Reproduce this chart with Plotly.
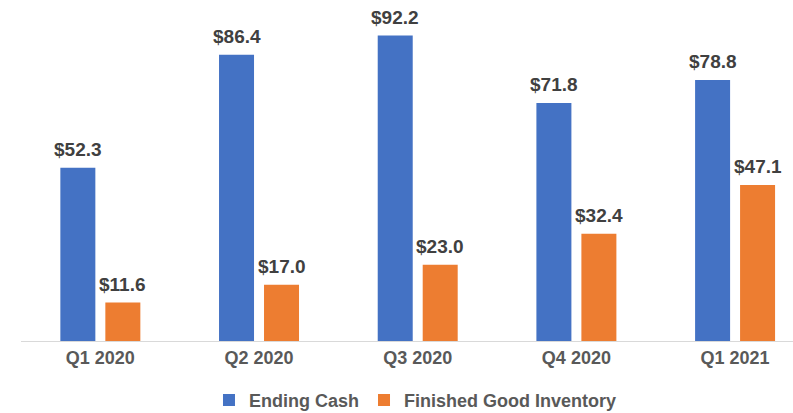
import plotly.graph_objects as go

categories = ["Q1 2020", "Q2 2020", "Q3 2020", "Q4 2020", "Q1 2021"]
ending_cash = [52.3, 86.4, 92.2, 71.8, 78.8]
inventory = [11.6, 17.0, 23.0, 32.4, 47.1]

def labels(vals):
    return ["$%.1f" % v for v in vals]

BLUE = "#4472C4"
ORANGE = "#ED7D31"

fig = go.Figure()
fig.add_trace(go.Bar(name="Ending Cash", x=categories, y=ending_cash,
                     marker_color=BLUE, marker_line_width=0, hoverinfo="x+y"))
fig.add_trace(go.Bar(name="Finished Good Inventory", x=categories, y=inventory,
                     marker_color=ORANGE, marker_line_width=0, hoverinfo="x+y"))

label_font = dict(family="Liberation Sans", size=19, color="#404040", weight="bold")
for vals, shift in ((ending_cash, -22.5), (inventory, 22.5)):
    for c, v, t in zip(categories, vals, labels(vals)):
        fig.add_annotation(x=c, y=v, xref="x", yref="y", text=t, showarrow=False,
                           xshift=shift, yshift=6, yanchor="bottom", xanchor="center",
                           font=label_font)

fig.update_layout(
    width=793, height=413,
    margin=dict(l=21, r=0, t=9, b=72),
    paper_bgcolor="white", plot_bgcolor="white",
    barmode="group", bargap=0.433, bargroupgap=0.222,
    font=dict(family="Liberation Sans", color="#595959"),
    legend=dict(orientation="h", x=0.511, xanchor="center",
                yref="container", y=0.031, yanchor="middle",
                font=dict(size=18, color="#595959", weight="bold"),
                itemwidth=30, traceorder="normal", tracegroupgap=0),
)
fig.update_xaxes(
    range=[-0.5, 4.365], showline=True, linecolor="#D9D9D9", linewidth=1,
    tickfont=dict(size=18, color="#595959", weight="bold"), ticks="",
    showgrid=False, zeroline=False, automargin=False,
)
fig.update_yaxes(range=[0, 100.2], visible=False, showgrid=False, zeroline=False,
                 automargin=False)

fig.write_html("out.html", config={"displayModeBar": False},
               post_script="document.body.style.margin='0';document.body.style.overflow='hidden';")
